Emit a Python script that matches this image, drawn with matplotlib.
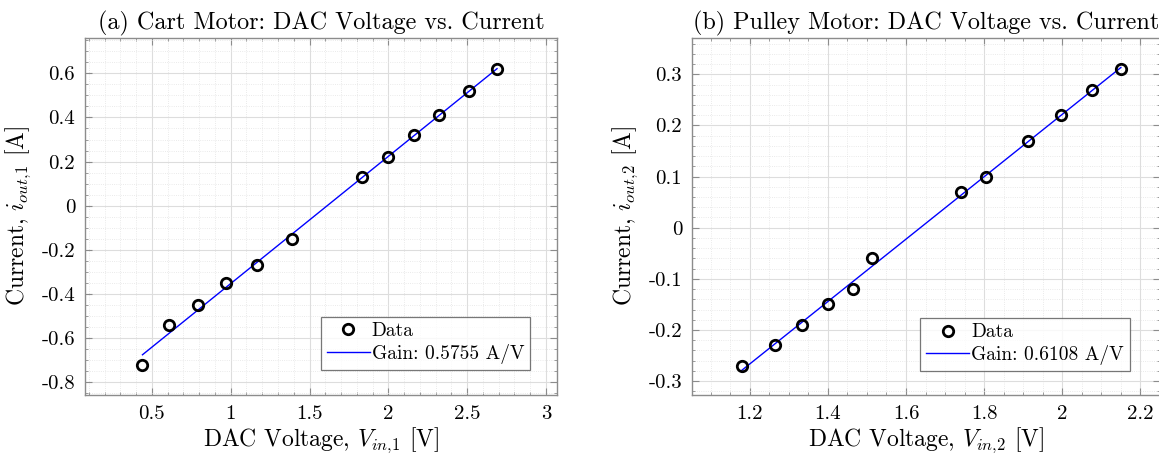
import numpy as np
import matplotlib
matplotlib.use("Agg")
import matplotlib.pyplot as plt
import matplotlib.ticker as mticker

# Cart motor (a)
cart_v = [0.44, 0.61, 0.795, 0.97, 1.165, 1.39, 1.835, 2.0, 2.165, 2.32, 2.51, 2.69]
cart_i = [-0.72, -0.54, -0.45, -0.35, -0.27, -0.15, 0.13, 0.22, 0.32, 0.41, 0.52, 0.62]
cart_gain_label = "Gain: 0.5755 A/V"

# Pulley motor (b)
pulley_v = [1.179, 1.264, 1.333, 1.40, 1.464, 1.513, 1.742, 1.806, 1.912, 1.996, 2.077, 2.15]
pulley_i = [-0.27, -0.23, -0.19, -0.15, -0.12, -0.06, 0.07, 0.10, 0.17, 0.22, 0.27, 0.31]
pulley_gain_label = "Gain: 0.6108 A/V"

plt.rcParams["font.family"] = "cmr10"
plt.rcParams["mathtext.fontset"] = "cm"
plt.rcParams["axes.unicode_minus"] = False

SPINE = "#8c8c8c"


def style_axes(ax, xlim, ylim, xmaj, xmin, ymaj, ymin):
    ax.set_xlim(*xlim)
    ax.set_ylim(*ylim)
    ax.xaxis.set_major_locator(mticker.MultipleLocator(xmaj))
    ax.xaxis.set_minor_locator(mticker.MultipleLocator(xmin))
    ax.yaxis.set_major_locator(mticker.MultipleLocator(ymaj))
    ax.yaxis.set_minor_locator(mticker.MultipleLocator(ymin))
    ax.xaxis.set_major_formatter(mticker.FormatStrFormatter("%g"))
    ax.yaxis.set_major_formatter(mticker.FormatStrFormatter("%g"))
    ax.grid(True, which="major", color="#dddddd", linewidth=0.8)
    ax.grid(True, which="minor", color="#e3e3e3", linewidth=0.6, linestyle=":")
    ax.set_axisbelow(True)
    ax.tick_params(which="both", direction="in", top=True, right=True,
                   color=SPINE, labelsize=15, pad=7)
    ax.tick_params(which="major", length=5)
    ax.tick_params(which="minor", length=2.5)
    for s in ax.spines.values():
        s.set_color(SPINE)
        s.set_linewidth(1.0)


def panel(ax, v, i, gain_label, title, sub, legend_anchor):
    v = np.array(v)
    i = np.array(i)
    slope, icept = np.polyfit(v, i, 1)
    xs = np.array([v.min(), v.max()])
    ax.plot(v, i, "o", mfc="none", mec="black", ms=7.5, mew=2.0, label="Data", zorder=3)
    ax.plot(xs, slope * xs + icept, color="blue", linewidth=1.0, label=gain_label, zorder=2)
    ax.set_title(title, fontsize=17.4, pad=6)
    ax.set_xlabel(rf"DAC Voltage, $V_{{in,\!{sub}}}$ [V]", fontsize=17, labelpad=2)
    ax.set_ylabel(rf"Current, $i_{{out,\!{sub}}}$ [A]", fontsize=17, labelpad=6)
    leg = ax.legend(loc="lower right", bbox_to_anchor=legend_anchor, fontsize=14,
                    frameon=True, fancybox=False, edgecolor="#555555",
                    handlelength=2.2, handletextpad=0.1, borderpad=0.3,
                    labelspacing=0.2, borderaxespad=0)
    leg.get_frame().set_linewidth(0.9)


fig = plt.figure(figsize=(11.59, 4.58), dpi=100)
ax1 = fig.add_axes([0.0733, 0.1376, 0.4072, 0.7795])
ax2 = fig.add_axes([0.597, 0.1376, 0.4038, 0.7795])

style_axes(ax1, (0.075, 3.07), (-0.857, 0.76), 0.5, 0.1, 0.2, 0.05)
panel(ax1, cart_v, cart_i, cart_gain_label,
      "(a) Cart Motor: DAC Voltage vs. Current", 1, (0.943, 0.070))

style_axes(ax2, (1.052, 2.25), (-0.327, 0.371), 0.2, 0.05, 0.1, 0.02)
panel(ax2, pulley_v, pulley_i, pulley_gain_label,
      "(b) Pulley Motor: DAC Voltage vs. Current", 2, (0.935, 0.067))

fig.savefig("out.png", dpi=100)
